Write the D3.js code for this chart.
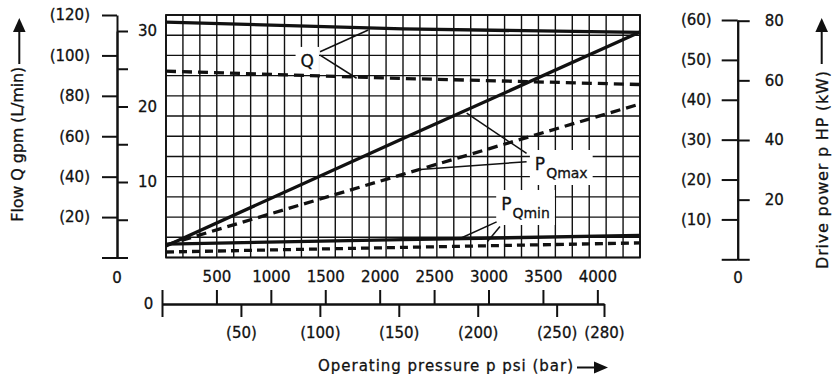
<!DOCTYPE html>
<html>
<head>
<meta charset="utf-8">
<script src="https://cdn.jsdelivr.net/npm/d3@7"></script>
<style>
  body { margin: 0; background: #fff; }
  svg { display: block; font-family: "DejaVu Sans", sans-serif; }
  text { stroke: #111; stroke-width: 0.3px; }
</style>
</head>
<body>
<svg width="833" height="374"></svg>
<script>
// curves: [pressure bar, value]
// flow curves in L/min, power curves in HP
const qSolid     = [[0, 116.5], [140, 113.1], [280, 111.4]];
const qDashed    = [[0, 92.2], [140, 88.6], [280, 85.6]];
const pMaxSolid  = [[0, 4.5], [140, 40.5], [280, 76.2]];
const pMaxDashed = [[0, 4.8], [140, 28.5], [280, 52.1]];
const pMinSolid  = [[0, 5.1], [140, 6.6], [280, 8.0]];
const pMinDashed = [[0, 2.45], [140, 4.0], [280, 5.5]];

const lpmTicks = [0, 20, 40, 60, 80, 100, 120];
const gpmTicks = [0, 5, 10, 15, 20, 25, 30];
const kwTicks  = [0, 10, 20, 30, 40, 50, 60];
const hpTicks  = [0, 20, 40, 60, 80];
const psiTicks = [0, 500, 1000, 1500, 2000, 2500, 3000, 3500, 4000];
const barTicks = [0, 50, 100, 150, 200, 250, 280];

// annotation leaders, in grid units [bar, L/min]
const qLeaders    = [[[91, 101.8], [119.5, 112.6]], [[91, 100.2], [112.6, 88.7]]];
const pMaxLeaders = [[[213, 51.5], [177.6, 71.4]], [[213, 47.4], [150, 43.5]]];
const pMinLeaders = [[[195.3, 17.6], [173.7, 9.4]], [[197.3, 15.3], [189.9, 7.9]]];

const svg = d3.select('svg');
const PSI_PER_BAR = 14.5038;

// the grid is in bar / L/min, the printed scales sit a bit off it
const xg    = d3.scaleLinear([0, 280], [166, 640]);
const yFlow = d3.scaleLinear([0, 120], [257.5, 15]);
const yGpm  = d3.scaleLinear([0, 30], [257.5, 31]);
const yHp   = d3.scaleLinear([0, 80], [259.3, 20.7]);
const yKw   = d3.scaleLinear([0, 60], [259.3, 20]);
const xBar  = d3.scaleLinear([0, 280], [162, 604]);
const xPsi  = d3.scaleLinear([0, 280 * PSI_PER_BAR], [162, 604]);

const ink = '#111';

// grid
const grid = svg.append('g').attr('stroke', ink).attr('stroke-width', 1.4);
grid.selectAll('.v').data(d3.range(0, 281, 10)).enter()
  .append('line')
    .attr('x1', d => xg(d)).attr('x2', d => xg(d))
    .attr('y1', yFlow(0)).attr('y2', yFlow(120));
grid.selectAll('.h').data(d3.range(0, 121, 10)).enter()
  .append('line')
    .attr('x1', xg(0)).attr('x2', xg(280))
    .attr('y1', d => yFlow(d)).attr('y2', d => yFlow(d));
svg.append('rect')
  .attr('x', xg(0)).attr('y', yFlow(120))
  .attr('width', xg(280) - xg(0)).attr('height', yFlow(0) - yFlow(120))
  .attr('fill', 'none').attr('stroke', ink).attr('stroke-width', 1.8);

// label boxes blank out the grid
const notes = svg.append('g');

// curves
const flowLine = d3.line().x(d => xg(d[0])).y(d => yFlow(d[1]));
const powerLine = d3.line().x(d => xg(d[0])).y(d => yHp(d[1]));

const curves = [
  { data: qSolid, gen: flowLine, dash: null },
  { data: qDashed, gen: flowLine, dash: '10,6' },
  { data: pMaxSolid, gen: powerLine, dash: null },
  { data: pMaxDashed, gen: powerLine, dash: '10,6' },
  { data: pMinSolid, gen: powerLine, dash: null },
  { data: pMinDashed, gen: powerLine, dash: '8,5' }
];
svg.append('g').selectAll('path').data(curves).enter()
  .append('path')
    .attr('d', d => d.gen(d.data))
    .attr('fill', 'none')
    .attr('stroke', ink)
    .attr('stroke-width', 3.3)
    .attr('stroke-dasharray', d => d.dash);

// annotations
function label(g, x, y, main, sub) {
  const t = g.append('text')
    .attr('x', xg(x)).attr('y', yFlow(y))
    .attr('font-size', 17).attr('fill', ink)
    .text(main);
  if (sub) {
    t.append('tspan').attr('dx', 1).attr('dy', 8).attr('font-size', 14).text(sub);
  }
  const b = t.node().getBBox();
  g.insert('rect', 'text')
    .attr('x', b.x - 5).attr('y', b.y - 4)
    .attr('width', b.width + 10).attr('height', b.height + 8)
    .attr('fill', '#fff').attr('stroke', 'none');
}
label(notes, 79.5, 94.3, 'Q');
label(notes, 217.9, 43.3, 'P', 'Qmax');
label(notes, 198, 23.5, 'P', 'Qmin');

const leaderLine = d3.line().x(d => xg(d[0])).y(d => yFlow(d[1]));
svg.append('g').selectAll('path')
  .data([...qLeaders, ...pMaxLeaders, ...pMinLeaders]).enter()
  .append('path')
    .attr('d', leaderLine)
    .attr('fill', 'none')
    .attr('stroke', ink)
    .attr('stroke-width', 1.5);

// axes
function style(g) {
  g.attr('font-size', 15).attr('font-family', null);
  g.selectAll('path, line').attr('stroke', ink).attr('stroke-width', 2);
  g.selectAll('text').attr('fill', ink);
}
const paren = d => d ? `(${d})` : '';

const left = svg.append('g').attr('transform', 'translate(117,0)');
left.append('g').call(d3.axisLeft(yFlow).tickValues(lpmTicks).tickSize(15).tickSizeOuter(0)
  .tickPadding(12).tickFormat(paren)).call(style);
left.append('g').call(d3.axisRight(yGpm).tickValues(gpmTicks).tickSize(11).tickSizeOuter(0)
  .tickPadding(10).tickFormat(d => d && d % 10 === 0 ? d : '')).call(style);

const right = svg.append('g').attr('transform', 'translate(737.7,0)');
right.append('g').call(d3.axisLeft(yKw).tickValues(kwTicks).tickSize(16).tickSizeOuter(0)
  .tickPadding(10).tickFormat(paren)).call(style);
right.append('g').call(d3.axisRight(yHp).tickValues(hpTicks).tickSize(12).tickSizeOuter(0)
  .tickPadding(15).tickFormat(d => d ? d : '')).call(style);

const bottom = svg.append('g').attr('transform', 'translate(0,304)');
bottom.append('g').call(d3.axisTop(xPsi).tickValues(psiTicks).tickSize(14).tickSizeOuter(0)
  .tickPadding(8).tickFormat(d => d ? d : '')).call(style);
bottom.append('g').call(d3.axisBottom(xBar).tickValues(barTicks).tickSize(13).tickSizeOuter(0)
  .tickPadding(10).tickFormat(paren)).call(style);

// zero labels
const zeros = [[117, 278], [738, 278], [148.5, 304]];
svg.append('g').selectAll('text').data(zeros).enter()
  .append('text')
    .attr('x', d => d[0]).attr('y', d => d[1]).attr('dy', '0.35em')
    .attr('text-anchor', 'middle').attr('font-size', 15).attr('fill', ink)
    .text('0');

// titles
svg.append('text')
  .attr('transform', 'translate(22.5,144.2) rotate(-90)')
  .attr('text-anchor', 'middle').attr('font-size', 16).attr('fill', ink)
  .attr('textLength', 155).attr('lengthAdjust', 'spacing')
  .text('Flow Q gpm (L/min)');
svg.append('text')
  .attr('transform', 'translate(827.5,170) rotate(-90)')
  .attr('text-anchor', 'middle').attr('font-size', 16).attr('fill', ink)
  .attr('textLength', 198).attr('lengthAdjust', 'spacing')
  .text('Drive power p HP (kW)');
svg.append('text')
  .attr('x', 318).attr('y', 371)
  .attr('font-size', 15).attr('fill', ink)
  .attr('textLength', 255).attr('lengthAdjust', 'spacing')
  .text('Operating pressure p psi (bar)');

// arrows
const arrows = svg.append('g').attr('fill', ink).attr('stroke', ink);
arrows.append('path').attr('d', 'M19.3,64V30').attr('stroke-width', 2);
arrows.append('path').attr('d', 'M19.3,18L13,32L25.6,32Z').attr('stroke', 'none');
arrows.append('path').attr('d', 'M821.7,64V30').attr('stroke-width', 2);
arrows.append('path').attr('d', 'M821.7,18L815.4,32L828,32Z').attr('stroke', 'none');
arrows.append('path').attr('d', 'M577,367.5H596').attr('stroke-width', 2);
arrows.append('path').attr('d', 'M608,367.5L594,361.5L594,373.5Z').attr('stroke', 'none');
</script>
</body>
</html>
